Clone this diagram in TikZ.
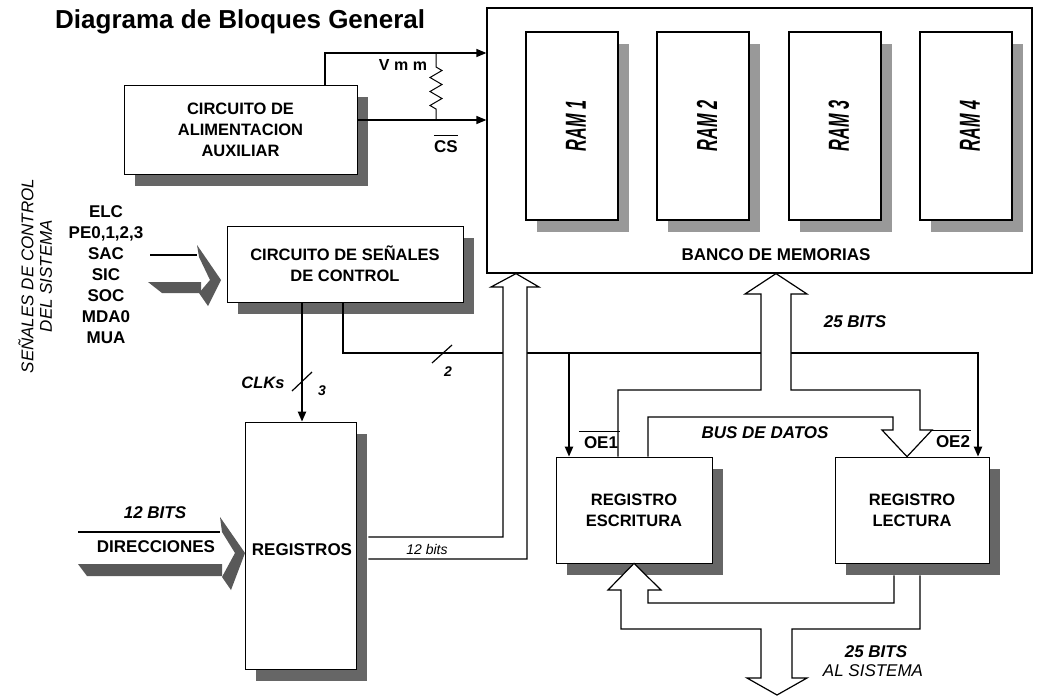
\documentclass[tikz,border=0pt]{standalone}
\usepackage{fontspec}
\setmainfont{Liberation Sans}
\usetikzlibrary{arrows.meta,shadows,calc}
\begin{document}
\begin{tikzpicture}[x=1pt,y=-1pt,
 blk/.style={draw, line width=0.7pt, fill=white, inner sep=0pt, align=center,
   font=\fontsize{16.5}{21}\selectfont\bfseries,
   drop shadow={shadow xshift=11pt, shadow yshift=-12pt, fill=black!60, opacity=1}},
 ram/.style={draw, line width=2pt, fill=white, inner sep=0pt,
   drop shadow={shadow xshift=11pt, shadow yshift=-12pt, fill=black!40, opacity=1}},
 lbl/.style={inner sep=0pt, font=\fontsize{17}{21}\selectfont\bfseries},
 ilbl/.style={inner sep=0pt, font=\fontsize{17}{21}\selectfont\bfseries\itshape},
 slbl/.style={inner sep=0pt, font=\fontsize{14}{14}\selectfont\bfseries\itshape},
 wire/.style={line width=1.3pt},
 cwire/.style={line width=2pt},
 tip/.style={-{Triangle[length=10pt,width=8pt]}},
 bus/.style={line width=1.2pt, fill=white, line join=miter},
 ovl/.style={line width=1.3pt},
 shade3d/.style={fill=black!65},
]
\useasboundingbox (0,0) rectangle (1043,696);
\fill[white] (0,0) rectangle (1043,696);

% title
\node[anchor=base west, inner sep=0pt, font=\fontsize{26}{30}\selectfont\bfseries] (title) at (55,28) {Diagrama de Bloques General};

% memory bank
\node[draw, line width=1.2pt, minimum width=545pt, minimum height=265pt, inner sep=0pt] (bank) at (759.5,140.5) {};
\node[lbl] (bankt) at (776,255) {BANCO DE MEMORIAS};
\foreach \i/\x in {1/572,2/703,3/835,4/966} {
  \node[ram, minimum width=92pt, minimum height=188pt] (ram\i) at (\x,126) {};
  \node[inner sep=0pt, rotate=90, font=\fontsize{29}{29}\selectfont\bfseries\itshape] (ram\i t) at ([xshift=4pt]ram\i.center) {\scalebox{.56}[1]{RAM \i}};
}

% blocks
\node[blk, minimum width=233pt, minimum height=89pt] (alim) at (240.5,129.5) {CIRCUITO DE\\ALIMENTACION\\AUXILIAR};
\node[blk, minimum width=236pt, minimum height=76pt] (ctrl) at (345,264) {CIRCUITO DE SEÑALES\\DE CONTROL};
\node[blk, minimum width=111pt, minimum height=247pt] (reg) at (300.5,545.5) {};
\node[lbl] (regt) at (302,550) {REGISTROS};
\node[blk, minimum width=156pt, minimum height=106pt] (esc) at (634,510) {REGISTRO\\ESCRITURA};
\node[blk, minimum width=154pt, minimum height=106pt] (lec) at (912,510) {REGISTRO\\LECTURA};

% Vmm and CS
\coordinate (vmmc) at (325,53);
\coordinate (csc) at (0,120);
\draw[wire, tip] (alim.north -| vmmc) -- (vmmc) -- (vmmc -| bank.west);
\draw[wire, tip] (alim.east |- csc) -- (csc -| bank.west);
\coordinate (rtop) at (436,53);
\coordinate (rbot) at (436,120);
\draw[line width=1pt, line join=miter] (rtop) -- (436,67) -- (442,70.5) -- (430,77.5) -- (442,84.5) -- (430,91.5) -- (442,98.5) -- (430,105.5) -- (436,109) -- (rbot);
\node[inner sep=0pt, font=\fontsize{16}{16}\selectfont\bfseries] (vmm) at (403,65) {V m m};
\node[lbl] (cs) at (446,147) {CS};
\draw[ovl] ([yshift=5pt]cs.north west) -- ([yshift=5pt]cs.north east);

% system control signals
\node[rotate=90, inner sep=0pt, font=\fontsize{17}{21}\selectfont\itshape] (sv1) at (26,276) {SEÑALES DE CONTROL};
\node[rotate=90, inner sep=0pt, font=\fontsize{17}{21}\selectfont\itshape] (sv2) at (46,276) {DEL SISTEMA};
\node[lbl, align=center] (sig) at (106,275) {ELC\\PE0,1,2,3\\SAC\\SIC\\SOC\\MDA0\\MUA};
\draw[line width=1.2pt] (150,255) -- (197,255);
\fill[shade3d] (148,282) -- (201,282) -- (201,293) -- (162,293) -- cycle;
\fill[shade3d] (197,245) -- (221,280) -- (208,306) -- (199,293) -- (210,280) -- (199,257) -- cycle;

% address input
\draw[line width=1.2pt] (78,532) -- (220,532);
\fill[shade3d] (78,564) -- (222,564) -- (222,576) -- (87,576) -- cycle;
\fill[shade3d] (220,517) -- (245,553) -- (231,590) -- (222,577) -- (235,553) -- (222,532) -- cycle;
\node[ilbl] (b12i) at (155,513) {12 BITS};
\node[lbl] (dir) at (156,547) {DIRECCIONES};

% clocks
\coordinate (clkx) at (302,0);
\draw[cwire, tip] (ctrl.south -| clkx) -- (reg.north -| clkx);
\draw[line width=1.2pt] (292,391) -- (312,372);
\node[inner sep=0pt, font=\fontsize{16.5}{20}\selectfont\bfseries\itshape] (clks) at (263,383) {CLKs};
\node[slbl] (n3) at (322,391) {3};

% output enables
\coordinate (c2a) at (343,353);
\coordinate (c2b) at (978,353);
\coordinate (c2c) at (569,353);
\draw[cwire, tip] (ctrl.south -| c2a) -- (c2a) -- (c2b) -- (lec.north -| c2b);
\draw[cwire, tip] (c2c) -- (esc.north -| c2c);
\draw[line width=1.2pt] (432,363) -- (452,345);
\node[slbl] (n2) at (448,372) {2};

% address bus to memory
\coordinate (regsh) at ($(reg.east)+(12,0)$);
\coordinate (abL) at (503,537);
\coordinate (abR) at (527,559);
\coordinate (abT) at (516,0);
\draw[bus] (regsh |- abL) -- (abL) -- (503,287) -- (491,287) -- (bank.south -| abT) -- (539,287) -- (527,287) -- (abR) -- (regsh |- abR);
\node[inner sep=0pt, font=\fontsize{14}{14}\selectfont\itshape] (b12) at (427,549) {12 bits};

% data bus
\coordinate (dbL) at (618,0);
\coordinate (dbR) at (648,0);
\coordinate (dbT) at (776,0);
\coordinate (dbD) at (907,0);
\draw[bus] (esc.north -| dbL) -- (618,390) -- (761,390) -- (761,294) -- (745,294) -- (bank.south -| dbT) -- (807,294) -- (791,294) -- (791,390) -- (920,390) -- (920,430) -- (932,430) -- (lec.north -| dbD) -- (882,430) -- (893,430) -- (893,417) -- (648,417) -- (esc.north -| dbR);
\node[ilbl] (bits25) at (855,322) {25 BITS};
\node[ilbl] (busd) at (765,433) {BUS DE DATOS};
\node[lbl] (oe1) at (601,443) {OE1};
\draw[ovl] ([shift={(-5pt,5pt)}]oe1.north west) -- ([shift={(2pt,5pt)}]oe1.north east);
\node[lbl] (oe2) at (953,442) {OE2};
\draw[ovl] ([shift={(-4pt,5pt)}]oe2.north west) -- ([shift={(1pt,5pt)}]oe2.north east);

% system bus
\coordinate (lsh) at ($(lec.south)+(0,12)$);
\coordinate (bbO) at (920,0);
\coordinate (bbI) at (894,0);
\coordinate (bbU) at (634,0);
\coordinate (sysT) at (777,695);
\draw[bus] (lsh -| bbO) -- (920,629) -- (792,629) -- (792,678) -- (807,678) -- (sysT) -- (747,678) -- (761,678) -- (761,629) -- (621,629) -- (621,590) -- (608,590) -- (esc.south -| bbU) -- (661,590) -- (648,590) -- (648,603) -- (894,603) -- (lsh -| bbI);
\node[ilbl] (bits25b) at (876,652) {25 BITS};
\node[inner sep=0pt, font=\fontsize{17}{21}\selectfont\itshape] (alsis) at (873,671) {AL SISTEMA};
\end{tikzpicture}
\end{document}
